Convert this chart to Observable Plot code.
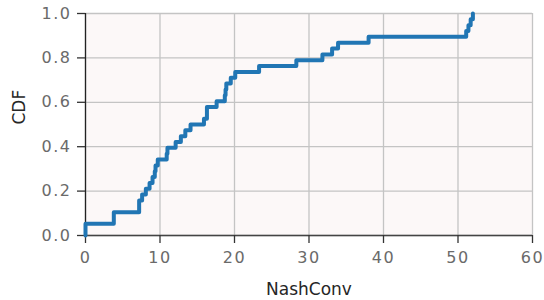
<!DOCTYPE html>
<html><head><meta charset="utf-8">
<script src="https://cdn.jsdelivr.net/npm/d3@7"></script>
<script src="https://cdn.jsdelivr.net/npm/@observablehq/plot@0.6"></script>
<style>body{margin:0;background:#fff} svg{font-family:"DejaVu Sans"} .tl text{letter-spacing:1.5px}</style>
</head><body><div id="chart"></div>
<script>
// NashConv samples read from the empirical CDF steps (38 samples)
const samples = [0, 0, 3.8, 3.8, 7.2, 7.2, 7.6, 8.1, 8.6, 9.0, 9.3, 9.4, 9.7,
  10.9, 11.0, 12.1, 12.8, 13.4, 14.1, 15.9, 16.3, 16.3, 17.6, 18.7, 18.8, 18.9,
  19.5, 20.1, 23.3, 28.3, 31.8, 33.1, 33.9, 38.0, 51.1, 51.4, 51.7, 52.0];
const xTicks = [0, 10, 20, 30, 40, 50, 60];
const yTicks = [0, 0.2, 0.4, 0.6, 0.8, 1.0];
const xLabel = "NashConv";
const yLabel = "CDF";

const sorted = samples.slice().sort((a, b) => a - b);
const n = sorted.length;
const ecdf = [{x: sorted[0], y: 0}];
sorted.forEach((v, i) => {
  if (i === n - 1 || sorted[i + 1] !== v) ecdf.push({x: v, y: (i + 1) / n});
});

const chart = Plot.plot({
  width: 544, height: 300,
  marginLeft: 85, marginRight: 12, marginTop: 13, marginBottom: 65,
  style: {fontFamily: "DejaVu Sans", background: "#fff"},
  x: {domain: [0, 60]},
  y: {domain: [0, 1]},
  marks: [
    Plot.frame({fill: "#fcf8f8", stroke: null}),
    Plot.gridX(xTicks, {stroke: "#c4c4c4", strokeOpacity: 1, strokeWidth: 1.3}),
    Plot.gridY(yTicks, {stroke: "#c4c4c4", strokeOpacity: 1, strokeWidth: 1.3}),
    Plot.ruleX([0], {stroke: "#222", strokeWidth: 1.3}),
    Plot.ruleY([0], {stroke: "#444", strokeWidth: 1.3}),
    Plot.axisX(xTicks, {className: "tl", tickSize: 8, tickPadding: 8, fontSize: 16, fill: "#6a6a6a", stroke: "#333", strokeWidth: 1.3, label: null, tickFormat: d => String(d)}),
    Plot.axisY(yTicks, {className: "tl", tickSize: 8, tickPadding: 6, fontSize: 16, fill: "#6a6a6a", stroke: "#333", strokeWidth: 1.3, label: null, tickFormat: d => d.toFixed(1)}),
    Plot.text([xLabel], {text: d => d, frameAnchor: "bottom", dy: 54, lineAnchor: "middle", fontSize: 17, fill: "#262626"}),
    Plot.text([yLabel], {text: d => d, frameAnchor: "left", dx: -66, rotate: -90, lineAnchor: "middle", fontSize: 17, fill: "#262626"}),
    Plot.line(ecdf, {x: "x", y: "y", curve: "step-after", stroke: "#2176b4", strokeWidth: 4})
  ]
});
document.getElementById("chart").appendChild(chart);
</script>
</body></html>
